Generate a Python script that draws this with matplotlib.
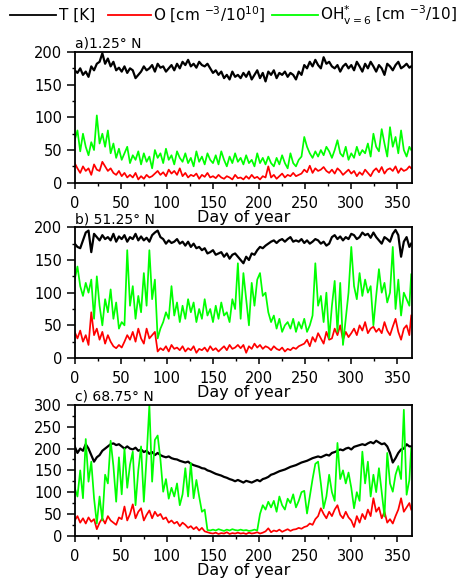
import matplotlib
matplotlib.use("Agg")
import matplotlib.pyplot as plt
from matplotlib.lines import Line2D
from matplotlib.ticker import MultipleLocator

plt.rcParams['font.family'] = ['DejaVu Sans']
plt.rcParams['mathtext.fontset'] = 'custom'
plt.rcParams['mathtext.rm'] = 'DejaVu Sans'
plt.rcParams['mathtext.it'] = 'DejaVu Sans'

# day of year sampled every 3 days (+ last day)
days = list(range(0, 364, 3)) + [365]

# ---- a) 1.25 N ----
a_T = [172, 168, 175, 165, 170, 162, 178, 172, 182, 185,
       198, 182, 190, 178, 185, 172, 176, 170, 178, 168,
       175, 172, 160, 165, 170, 178, 172, 175, 180, 170,
       182, 176, 178, 170, 175, 180, 172, 182, 175, 185,
       180, 188, 178, 182, 176, 185, 180, 178, 182, 175,
       168, 172, 165, 170, 160, 165, 158, 170, 162, 165,
       160, 168, 162, 170, 158, 165, 172, 160, 168, 155,
       170, 165, 172, 160, 168, 165, 170, 162, 168, 165,
       158, 170, 165, 180, 175, 185, 178, 188, 180, 175,
       192, 182, 185, 178, 175, 180, 170, 178, 182, 175,
       180, 172, 185, 178, 170, 182, 175, 185, 178, 170,
       180, 175, 165, 182, 178, 172, 180, 185, 175, 178,
       182, 176, 178]
a_O = [30, 22, 15, 25, 18, 22, 12, 28, 20, 18,
       32, 25, 18, 22, 15, 12, 18, 10, 15, 8,
       12, 8, 15, 5, 10, 6, 12, 8, 10, 14,
       18, 12, 16, 10, 20, 14, 18, 12, 22, 10,
       15, 8, 12, 10, 14, 6, 12, 9, 15, 8,
       10, 7, 12, 8, 6, 10, 8, 5, 12, 7,
       8, 5, 10, 6, 12, 7, 9, 5, 10, 8,
       25, 8, 12, 6, 10, 14, 8, 12, 10, 15,
       10, 12, 14, 20, 16, 26, 15, 22, 18, 20,
       24, 18, 15, 20, 14, 22, 18, 12, 16, 20,
       14, 18, 10, 16, 12, 20, 15, 10, 18, 22,
       16, 24, 14, 20, 22, 18, 25, 15, 22, 18,
       20, 25, 22]
a_OH = [65, 80, 48, 75, 55, 42, 62, 50, 103, 60,
        75, 55, 80, 45, 60, 38, 52, 35, 45, 55,
        30, 42, 35, 48, 28, 45, 32, 40, 22, 50,
        38, 45, 30, 52, 35, 42, 28, 48, 38, 32,
        45, 30, 38, 25, 48, 32, 40, 28, 45, 35,
        30, 42, 28, 48, 35, 25, 40, 30, 45, 32,
        38, 28, 42, 30, 35, 25, 45, 30, 38, 28,
        40, 30, 25, 38, 28, 42, 30, 22, 45, 30,
        25, 35, 40, 70, 55, 45, 38, 48, 40, 50,
        42, 55, 48, 38, 50, 65, 45, 40, 55, 35,
        45, 38, 55, 42, 50, 45, 60, 40, 75, 55,
        48, 82, 60, 40, 85, 55, 70, 45, 80, 50,
        40, 55, 50]

# ---- b) 51.25 N ----
b_T = [175, 170, 168, 180, 192, 195, 162, 190, 185, 180,
       188, 182, 185, 180, 190, 178, 186, 182, 188, 178,
       185, 182, 190, 180, 186, 180, 184, 178, 188, 192,
       195, 185, 182, 175, 180, 176, 178, 182, 175, 178,
       172, 178, 170, 175, 168, 170, 165, 168, 160, 162,
       165, 158, 160, 162, 155, 160, 152, 158, 160, 155,
       150, 145, 155, 150, 160, 158, 165, 170, 168, 172,
       175, 178, 180, 176, 180, 182, 178, 182, 185, 178,
       180, 178, 182, 176, 180, 175, 178, 182, 180, 175,
       178, 172, 175, 185, 188, 182, 186, 180, 185, 182,
       190, 188, 182, 185, 192, 188, 190, 184, 192, 185,
       180, 175, 185, 182, 178, 190, 196, 188, 155, 178,
       185, 170, 175]
b_O = [40, 30, 42, 25, 35, 20, 70, 35, 45, 28,
       40, 22, 35, 25, 18, 15, 20, 16, 25, 35,
       28, 40, 25, 45, 30, 22, 45, 30, 35, 40,
       10, 15, 12, 18, 10, 20, 14, 16, 12, 18,
       10, 15, 12, 18, 8, 14, 12, 16, 10, 18,
       12, 15, 10, 14, 18, 12, 20, 14, 16, 20,
       15, 20, 8, 18, 14, 22, 16, 20, 14, 18,
       16, 12, 18, 14, 12, 16, 10, 14, 12, 16,
       14, 18, 20, 22, 28, 18, 32, 25, 38, 30,
       22, 40, 28, 30, 45, 35, 50, 28, 40, 32,
       38, 45, 35, 50, 42, 55, 38, 45, 48, 40,
       45, 38, 55, 42, 35, 48, 60, 40, 28, 45,
       50, 35, 65]
b_OH = [120, 140, 110, 95, 115, 100, 120, 60, 125, 80,
        50, 90, 70, 105, 60, 85, 45, 55, 50, 165,
        80, 110, 60, 95, 70, 130, 80, 165, 90, 120,
        30, 45, 55, 70, 60, 110, 65, 85, 55, 80,
        60, 90, 70, 85, 55, 75, 60, 90, 65, 75,
        55, 80, 60, 85, 65, 70, 55, 90, 75, 145,
        60, 130, 90, 50, 115, 80, 120, 130, 95, 100,
        70, 55, 65, 45, 60, 40, 50, 55, 45, 60,
        40, 55, 45, 60, 40, 50, 65, 145, 80, 95,
        55, 100, 30, 80, 118, 40, 115, 20, 60, 100,
        170, 110, 90, 130, 95, 120, 100, 110, 50, 95,
        136, 100, 115, 85, 100, 170, 75, 120, 65, 100,
        90, 80, 128]

# ---- c) 68.75 N ----
c_T = [205, 190, 200, 195, 210, 200, 185, 170, 180, 185,
       195, 200, 205, 210, 212, 208, 210, 205, 200, 205,
       200, 198, 202, 195, 198, 192, 195, 188, 192, 185,
       190, 185, 182, 180, 182, 178, 176, 175, 172, 170,
       168, 170, 165, 162, 160, 158, 155, 154, 150, 148,
       145, 142, 140, 138, 135, 133, 130, 128, 125, 128,
       125, 122, 126, 124, 122, 125, 128, 125, 130, 132,
       135, 140, 142, 145, 148, 150, 152, 155, 158, 160,
       162, 165, 168, 170, 172, 175, 178, 180, 182, 180,
       183, 186, 184, 190, 192, 195, 198, 196, 200, 202,
       198, 204, 206, 208, 210, 208, 212, 215, 212, 218,
       214, 210, 212, 205, 190, 168, 178, 190, 198, 200,
       210, 205, 205]
c_O = [35, 45, 30, 40, 28, 42, 32, 38, 15, 30,
       40, 28, 45, 35, 30, 25, 42, 38, 67, 35,
       50, 72, 40, 55, 63, 35, 48, 58, 40, 55,
       45, 50, 38, 42, 30, 35, 28, 32, 22, 30,
       25, 18, 22, 15, 20, 12, 18, 10, 8, 6,
       5, 7, 4, 6, 5, 8, 4, 6, 5, 7,
       5, 6, 4, 7, 5, 6, 8, 5, 7, 10,
       17, 8, 12, 10, 14, 9, 12, 15, 11, 14,
       15, 18, 16, 20, 22, 28, 25, 38, 45, 63,
       50, 40, 55, 45, 60, 70, 48, 40, 55, 42,
       35, 20, 45, 30, 50, 38, 60, 45, 86, 55,
       65, 40, 55, 30, 38, 28, 45, 60, 86, 55,
       65, 75, 60]
c_OH = [110, 90, 150, 86, 222, 124, 170, 86, 28, 90,
        35, 140, 120, 218, 160, 78, 180, 95, 200, 110,
        163, 193, 70, 150, 205, 78, 180, 300, 124, 220,
        230, 175, 101, 130, 85, 110, 90, 120, 70, 95,
        155, 90, 167, 86, 128, 90, 55, 60, 13, 12,
        14, 12, 15, 13, 11, 14, 12, 15, 13, 12,
        14, 12, 13, 11, 12, 14, 12, 50, 70, 60,
        78, 65, 80, 55, 90, 70, 60, 85, 75, 95,
        65, 80, 100, 103, 51, 90, 130, 165, 170, 120,
        63, 90, 140, 100, 80, 213, 130, 150, 120, 145,
        110, 63, 100, 80, 193, 120, 170, 90, 140, 100,
        155, 100, 44, 190, 120, 101, 140, 160, 130, 289,
        94, 128, 201]

panels = [
    ('a)1.25° N', a_T, a_O, a_OH, 200),
    ('b) 51.25° N', b_T, b_O, b_OH, 200),
    ('c) 68.75° N', c_T, c_O, c_OH, 300),
]

fig = plt.figure(figsize=(4.61, 5.83), dpi=100)
bottoms = [0.6866, 0.3859, 0.0811]
for (title, T, O, OH, ymax), bot in zip(panels, bottoms):
    ax = fig.add_axes([0.162, bot, 0.732, 0.2242])
    ax.plot(days, T, color='black', lw=1.6)
    ax.plot(days, O, color='#ff0000', lw=1.25)
    ax.plot(days, OH, color='#00ff00', lw=1.25)
    ax.set_xlim(0, 366)
    ax.set_ylim(0, ymax)
    ax.xaxis.set_major_locator(MultipleLocator(50))
    ax.xaxis.set_minor_locator(MultipleLocator(25))
    ax.yaxis.set_major_locator(MultipleLocator(50))
    ax.yaxis.set_minor_locator(MultipleLocator(25))
    ax.tick_params(axis='x', which='major', direction='out', length=4.5, width=1.1,
                   labelsize=10.5, pad=5)
    ax.tick_params(axis='y', which='major', direction='out', length=6, width=1.1,
                   labelsize=10.5, pad=3)
    ax.tick_params(which='minor', direction='out', length=2.5, width=1.0)
    for s in ax.spines.values():
        s.set_linewidth(1.3)
    ax.set_xlabel('Day of year', fontsize=11.5, labelpad=-1)
    ax.text(0.0, 1.01, title, transform=ax.transAxes, fontsize=10, va='bottom', ha='left')

# legend drawn across the top
ly = 1 - 15 / 583
items = [
    (10, 56, 'black', 'T [K]', 59),
    (108, 151, '#ff0000', 'O [cm $^{-3}$/10$^{10}$]', 153),
    (272, 318, '#00ff00', 'OH$\\mathrm{^{*}_{v=6}}$ [cm $^{-3}$/10]', 320),
]
for x0, x1, col, lab, tx in items:
    fig.add_artist(Line2D([x0 / 461, x1 / 461], [ly, ly], color=col, lw=1.3))
    fig.text(tx / 461, ly, lab, fontsize=11, va='center', ha='left')

fig.savefig('out.png', dpi=100)
